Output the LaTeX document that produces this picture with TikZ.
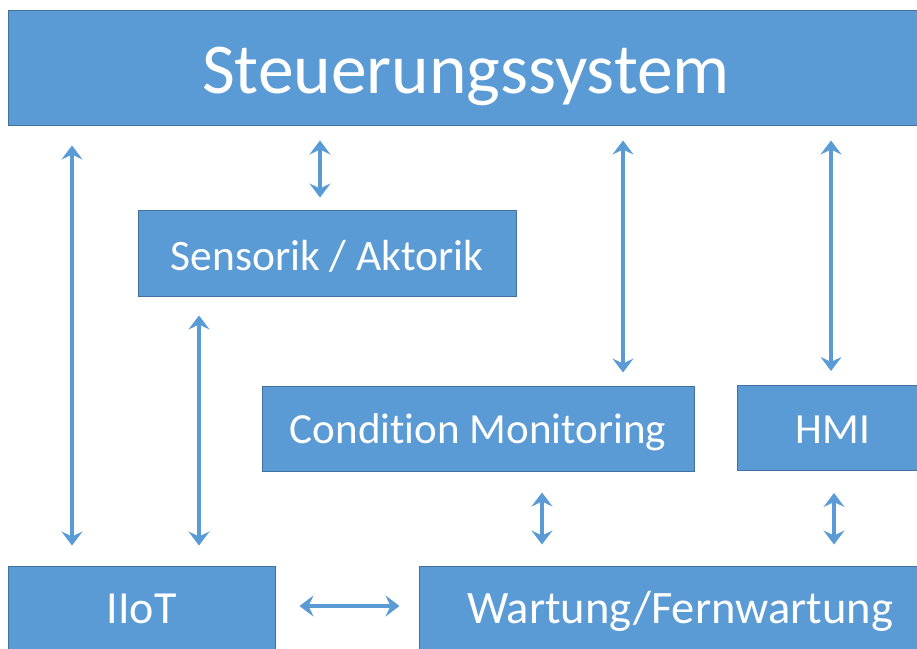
\documentclass[tikz,border=0pt]{standalone}
\usepackage{fontspec}
\setmainfont{Carlito}[Ligatures=CommonOff]
\usetikzlibrary{arrows.meta}
\definecolor{boxfill}{HTML}{5B9BD5}
\definecolor{boxline}{HTML}{41719C}
\begin{document}
\begin{tikzpicture}[x=1pt,y=-1pt,
  box/.style={draw=boxline, line width=1pt, fill=boxfill, text=white, inner sep=0pt, anchor=center, text depth=0pt},
  arr/.style={draw=boxfill, line width=3.5pt, {Stealth[length=14pt,width=21pt,inset=5pt]}-{Stealth[length=14pt,width=21pt,inset=5pt]}}
]
\useasboundingbox (0,0) rectangle (917,648);
\begin{scope}
\clip (0,0) rectangle (917,648);
\node[box, minimum width=916pt, minimum height=115pt, text height=51pt, font=\fontsize{71.5}{80}\selectfont] (steuer) at (466,67.5) {Steuerungssystem};
\node[box, minimum width=378pt, minimum height=86pt, text height=34pt, font=\fontsize{43.5}{48}\selectfont] (sensor) at (327,253) {Sensorik / Aktorik};
\node[box, minimum width=432pt, minimum height=85pt, text height=29pt, font=\fontsize{43}{48}\selectfont] (cond) at (478,428.5) {Condition Monitoring};
\node[box, minimum width=192pt, minimum height=85pt, text height=30pt, font=\fontsize{43}{48}\selectfont] (hmi) at (833,428) {HMI};
\node[box, minimum width=267pt, minimum height=84pt, text height=30pt, font=\fontsize{46}{50}\selectfont] (iiot) at (141.5,608) {IIoT};
\node[box, minimum width=522pt, minimum height=84pt, text height=30pt, font=\fontsize{46.5}{50}\selectfont] (wart) at (680,608) {Wartung/Fernwartung};
\end{scope}
\coordinate (c1) at (72,0);
\coordinate (c2) at (320,0);
\coordinate (c3) at (623,0);
\coordinate (c4) at (831,0);
\coordinate (c5) at (199,0);
\coordinate (c6) at (542,0);
\coordinate (c7) at (834,0);
\coordinate (c8) at (0,606);
\draw[arr, shorten <=20pt, shorten >=20pt] (steuer.south -| c1) -- (iiot.north -| c1);
\draw[arr, shorten <=15pt, shorten >=12pt] (steuer.south -| c2) -- (sensor.north -| c2);
\draw[arr, shorten <=15pt, shorten >=13pt] (steuer.south -| c3) -- (cond.north -| c3);
\draw[arr, shorten <=15pt, shorten >=14pt] (steuer.south -| c4) -- (hmi.north -| c4);
\draw[arr, shorten <=19pt, shorten >=20pt] (sensor.south -| c5) -- (iiot.north -| c5);
\draw[arr, shorten <=21pt, shorten >=21pt] (cond.south -| c6) -- (wart.north -| c6);
\draw[arr, shorten <=22pt, shorten >=21pt] (hmi.south -| c7) -- (wart.north -| c7);
\draw[arr, shorten <=24pt, shorten >=19pt] (iiot.east |- c8) -- (wart.west |- c8);
\end{tikzpicture}
\end{document}
